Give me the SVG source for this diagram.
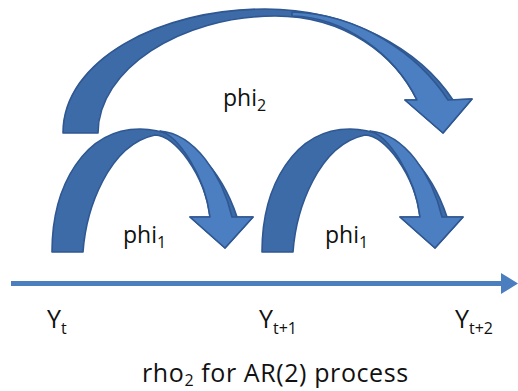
<svg xmlns="http://www.w3.org/2000/svg" width="518" height="391" viewBox="0 0 518 391">
<style>
.back{fill:#3C6BA8;stroke:#2F5791;stroke-width:1.6;stroke-linejoin:round}
.front{fill:#4B7FC1;stroke:#2F5791;stroke-width:1.6;stroke-linejoin:round}
.lbl{font-family:"Open Sans","Liberation Sans",sans-serif;fill:#111}
.sub{font-size:16px}
</style>
<rect width="518" height="391" fill="#ffffff"/>
<g id="connectors">
  <g id="arrow-phi2">
    <path class="back" d="M63,133 C63,60 160,9 265,9 C350,9 420,50 453,100 L472,99 L443,133 L405,100 L417,100 C395,55 345,16 275,16 C180,16 98,70 98,133 Z"/>
    <path class="front" d="M292,12 C360,14 418,54 448,100 L472,99 L443,133 L405,100 L417,100 C395,55 345,17 292,16 Z"/>
  </g>
  <g id="arrow-phi1-a">
    <path class="back" d="M52,252 C52,185 85,129 140,129 C188,129 222,172 237,217 L253,217 L225,248 L190,217 L210,217 C205,175 175,135 155,135 C108,145 86,210 83,252 Z"/>
    <path class="front" d="M160,131 C195,134 222,175 232,217 L253,217 L225,248 L190,217 L210,217 C205,175 178,136 160,131 Z"/>
  </g>
  <g id="arrow-phi1-b" transform="translate(210,0)">
    <path class="back" d="M52,252 C52,185 85,129 140,129 C188,129 222,172 237,217 L253,217 L225,248 L190,217 L210,217 C205,175 175,135 155,135 C108,145 86,210 83,252 Z"/>
    <path class="front" d="M160,131 C195,134 222,175 232,217 L253,217 L225,248 L190,217 L210,217 C205,175 178,136 160,131 Z"/>
  </g>
  <g id="time-axis">
    <line x1="11" y1="283.5" x2="508" y2="283.5" stroke="#4A7EBF" stroke-width="5"/>
    <path d="M501,273 L518,283.5 L501,294 Z" fill="#4A7EBF"/>
  </g>
</g>
<g id="label-phi2"><text class="lbl" x="223" y="106" font-size="23">phi<tspan class="sub" dy="5">2</tspan></text></g>
<g id="label-phi1-a"><text class="lbl" x="123" y="243" font-size="23">phi<tspan class="sub" dy="5">1</tspan></text></g>
<g id="label-phi1-b"><text class="lbl" x="325" y="243" font-size="23">phi<tspan class="sub" dy="5">1</tspan></text></g>
<g id="node-yt"><text class="lbl" x="47" y="328" font-size="25">Y<tspan class="sub" dy="6">t</tspan></text></g>
<g id="node-yt1"><text class="lbl" x="259" y="328" font-size="25">Y<tspan class="sub" dy="6">t+1</tspan></text></g>
<g id="node-yt2"><text class="lbl" x="455" y="328" font-size="25">Y<tspan class="sub" dy="6">t+2</tspan></text></g>
<g id="caption"><text class="lbl" x="142" y="382" font-size="25" letter-spacing="0.6">rho<tspan class="sub" dy="4">2</tspan><tspan dy="-4"> for AR(2) process</tspan></text></g>
</svg>
